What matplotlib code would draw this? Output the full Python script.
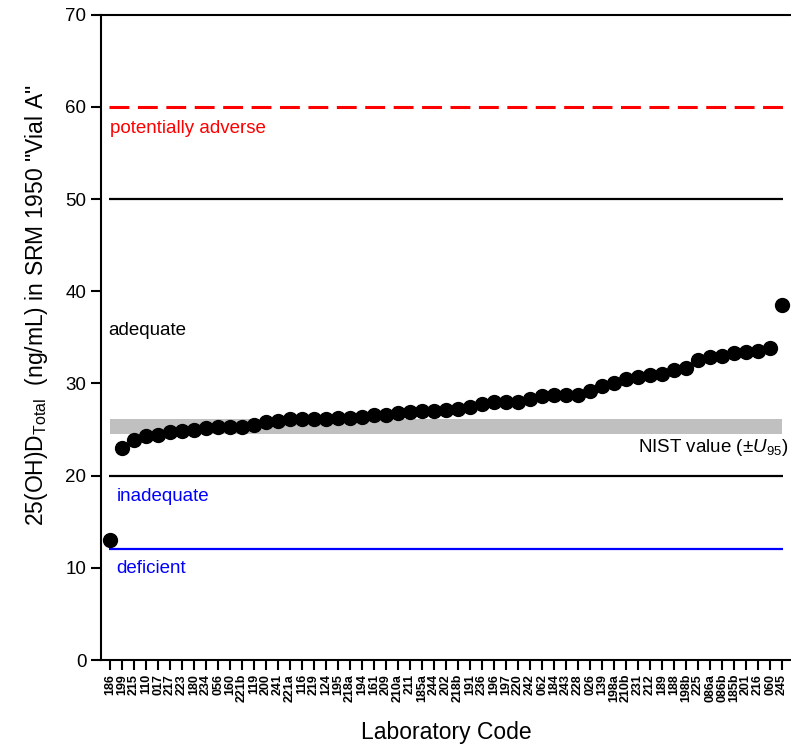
import matplotlib
matplotlib.use("Agg")
import matplotlib.pyplot as plt

plt.rcParams['font.family'] = ['Liberation Sans', 'DejaVu Sans']
plt.rcParams['mathtext.fontset'] = 'custom'
plt.rcParams['mathtext.rm'] = 'Liberation Sans'
plt.rcParams['mathtext.it'] = 'Liberation Sans:italic'

# lab codes, sorted by reported value
labs = ['186', '199', '215', '110', '017', '217', '223', '180', '234', '056',
        '160', '221b', '119', '200', '241', '221a', '116', '219', '124', '195',
        '218a', '194', '161', '209', '210a', '211', '185a', '244', '202', '218b',
        '191', '236', '196', '197', '220', '242', '062', '184', '243', '228',
        '026', '139', '198a', '210b', '231', '212', '189', '188', '198b', '225',
        '086a', '086b', '185b', '201', '216', '060', '245']
values = [13.0, 23.0, 23.9, 24.3, 24.4, 24.7, 24.8, 25.0, 25.2, 25.3,
          25.3, 25.3, 25.5, 25.8, 25.9, 26.1, 26.1, 26.2, 26.2, 26.3,
          26.3, 26.4, 26.6, 26.6, 26.8, 26.9, 27.0, 27.0, 27.1, 27.2,
          27.5, 27.8, 28.0, 28.0, 28.0, 28.3, 28.6, 28.7, 28.7, 28.8,
          29.2, 29.7, 30.0, 30.5, 30.7, 30.9, 31.0, 31.5, 31.7, 32.5,
          32.9, 33.0, 33.3, 33.4, 33.5, 33.9, 38.5]

nist_low, nist_high = 24.5, 26.1
cutoffs = {'deficient': 12, 'inadequate': 20, 'adequate': 50, 'adverse': 60}

x = list(range(len(labs)))

fig = plt.figure(figsize=(7.91, 7.48), dpi=100)
ax = fig.add_axes([0.1277, 0.1176, 0.8723, 0.8627])

ax.fill_between([x[0], x[-1]], nist_low, nist_high, color='#c0c0c0', lw=0, zorder=1)

ax.hlines(cutoffs['adverse'], x[0] - 0.1, x[-1] + 0.1, colors='#ff0000', lw=2.2,
          linestyles=(0, (6.5, 2.8)), zorder=2)
ax.hlines([cutoffs['adequate'], cutoffs['inadequate']], x[0] - 0.1, x[-1] + 0.1,
          colors='black', lw=1.6, zorder=2)
ax.hlines(cutoffs['deficient'], x[0] - 0.1, x[-1] + 0.1, colors='#0000ff', lw=1.6, zorder=2)

ax.plot(x, values, 'o', color='black', ms=10, zorder=3)

fs = 13.5
ax.text(0, 57.7, 'potentially adverse', color='#ff0000', fontsize=fs, va='center', ha='left')
ax.text(-0.15, 35.8, 'adequate', color='black', fontsize=fs, va='center', ha='left')
ax.text(0.55, 17.7, 'inadequate', color='#0000ff', fontsize=fs, va='center', ha='left')
ax.text(0.55, 9.9, 'deficient', color='#0000ff', fontsize=fs, va='center', ha='left')
ax.text(56.5, 23.1, r'NIST value (±$U_{95}$)', color='black', fontsize=fs,
        va='center', ha='right')

ax.set_xlim(-0.75, 56.75)
ax.set_ylim(0, 70)
ax.set_yticks(range(0, 71, 10))
ax.set_xticks(x)
ax.set_xticklabels(labs, rotation=90, fontsize=9, fontweight='bold')
ax.tick_params(axis='y', labelsize=13.5, direction='out', length=7, width=1.5)
ax.tick_params(axis='x', direction='out', length=7, width=1.5, pad=3)

for side in ['left', 'bottom', 'top']:
    ax.spines[side].set_linewidth(1.5)
ax.spines['right'].set_visible(False)

ax.set_xlabel('Laboratory Code', fontsize=16.5, va='center')
ax.xaxis.set_label_coords(0.5, -0.113)
ax.set_ylabel(r'25(OH)D$_{\mathregular{Total}}$  (ng/mL) in SRM 1950 "Vial A"', fontsize=16.5,
              va='center')
ax.yaxis.set_label_coords(-0.093, 0.549)

plt.savefig('out.png', dpi=100)
